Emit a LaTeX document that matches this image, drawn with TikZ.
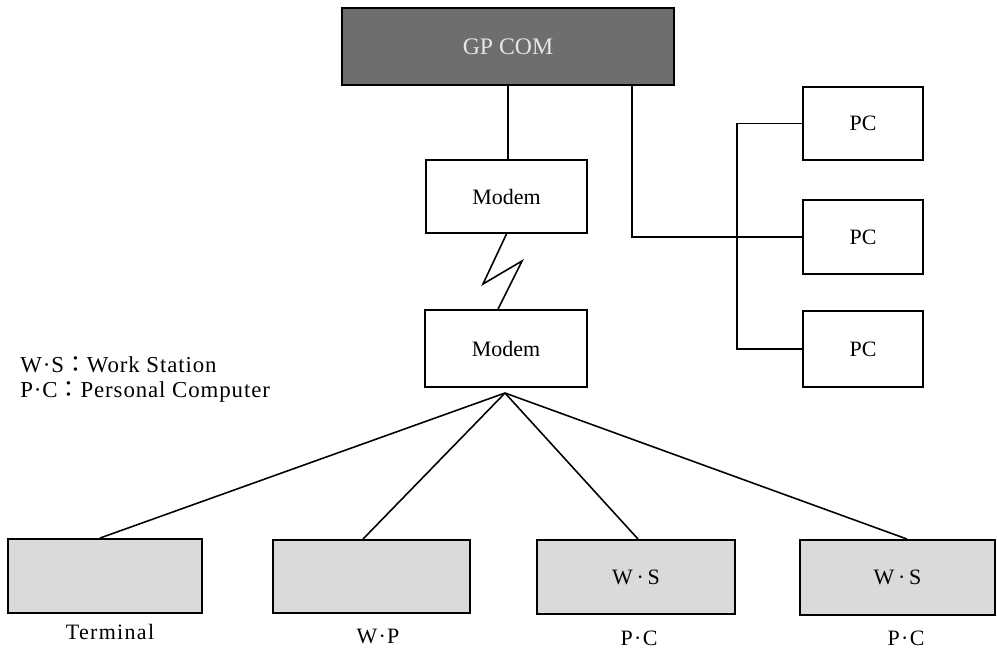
\documentclass[tikz,border=0pt]{standalone}
\usepackage{fontspec}
\setmainfont{Liberation Serif}
\newfontfamily\cjkfont{Noto Sans CJK JP}
\definecolor{darkbox}{HTML}{6E6E6E}
\definecolor{darktext}{HTML}{E6E6E6}
\definecolor{lightbox}{HTML}{DADADA}
\begin{document}
\begin{tikzpicture}[x=0.02cm,y=-0.02cm,
  box/.style={draw=black,line width=1.1pt,inner sep=0pt,minimum height=1.5cm,font=\fontsize{12.5}{14}\selectfont},
  gpbox/.style={box,fill=darkbox,text=darktext,font=\fontsize{13.5}{15}\selectfont},
  lbox/.style={box,fill=lightbox},
  wbox/.style={box,fill=white},
  lab/.style={inner sep=1pt,font=\fontsize{12.5}{14}\selectfont\addfontfeatures{LetterSpace=6}},
  leg/.style={anchor=west,inner sep=0pt,font=\fontsize{13}{14}\selectfont\addfontfeatures{LetterSpace=4}},
  wire/.style={line width=0.9pt}]
\fill[white] (0,0) rectangle (997,650);
\useasboundingbox (0,0) rectangle (997,650);
% main boxes
\node[gpbox,minimum width=6.64cm,minimum height=1.54cm] (gp) at (508,46.5) {GP COM};
\node[wbox,minimum width=3.22cm,minimum height=1.46cm] (m1) at (506.5,196.5) {Modem};
\node[wbox,minimum width=3.24cm,minimum height=1.54cm] (m2) at (506,348.5) {Modem};
\node[wbox,minimum width=2.4cm,minimum height=1.46cm] (pc1) at (863,123.5) {PC};
\node[wbox,minimum width=2.4cm,minimum height=1.48cm] (pc2) at (863,237) {PC};
\node[wbox,minimum width=2.4cm,minimum height=1.52cm] (pc3) at (863,349) {PC};
% bottom boxes
\node[lbox,minimum width=3.88cm,minimum height=1.48cm] (t) at (105,576) {};
\node[lbox,minimum width=3.94cm,minimum height=1.46cm] (wp) at (371.5,576.5) {};
\node[lbox,minimum width=3.96cm,minimum height=1.48cm] (ws1) at (636,577) {W\,·\,S};
\node[lbox,minimum width=3.9cm,minimum height=1.5cm] (ws2) at (897.5,577.5) {W\,·\,S};
% labels under bottom boxes
\node[lab] (lt) at (110,632) {Terminal};
\node[lab] (lwp) at (378,636) {W·P};
\node[lab] (lpc1) at (639,638) {P·C};
\node[lab] (lpc2) at (906,638) {P·C};
% legend
\node[leg] (leg1) at (20,365) {W·S{\cjkfont ：}Work Station};
\node[leg] (leg2) at (20,392) {P·C{\cjkfont ：}Personal Computer};
% coordinates
\coordinate (j1) at (632,85);
\coordinate (bus) at (737,0);
\coordinate (z1) at (483,284);
\coordinate (z2) at (522,261);
\coordinate (z3) at (498,0);
\coordinate (apex) at (505,393);
\coordinate (tt) at (100,0);
\coordinate (wpt) at (363,0);
\coordinate (ws1t) at (638,0);
\coordinate (ws2t) at (907,0);
% connectors
\draw[wire] (gp.south) -- (gp.south |- m1.north);
\draw[wire] (j1) |- (pc2.west);
\draw[wire] (pc1.west) -- (pc1.west -| bus) -- (pc3.west -| bus) -- (pc3.west);
\draw[wire] (m1.south) -- (z1) -- (z2) -- (z3 |- m2.north);
\draw[wire] (apex) -- (tt |- t.north);
\draw[wire] (apex) -- (wpt |- wp.north);
\draw[wire] (apex) -- (ws1t |- ws1.north);
\draw[wire] (apex) -- (ws2t |- ws2.north);
\end{tikzpicture}
\end{document}
